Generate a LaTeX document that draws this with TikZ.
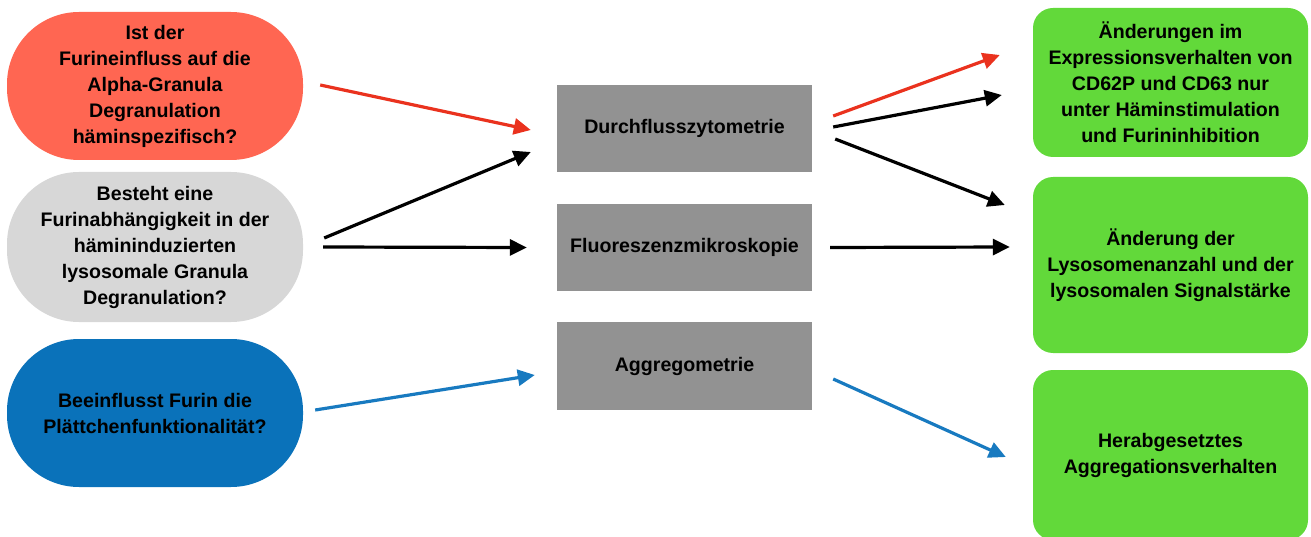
\documentclass[tikz,border=0pt]{standalone}
\usepackage{fontspec}
\setmainfont{Liberation Sans}
\usetikzlibrary{arrows.meta}
\definecolor{qred}{RGB}{255,102,82}
\definecolor{qgray}{RGB}{215,215,215}
\definecolor{qblue}{RGB}{10,114,186}
\definecolor{mgray}{RGB}{146,146,146}
\definecolor{rgreen}{RGB}{98,217,58}
\definecolor{ared}{RGB}{234,50,30}
\definecolor{ablue}{RGB}{24,122,192}
\begin{document}
\begin{tikzpicture}[x=1pt,y=-1pt,
  txt/.style={font=\fontsize{19.6}{26}\selectfont\bfseries, text=black, align=center, inner sep=0pt},
  question/.style={txt, minimum width=296pt, rounded corners=72pt},
  method/.style={txt, fill=mgray, minimum width=255pt, minimum height=87pt},
  result/.style={txt, fill=rgreen, minimum width=275pt, rounded corners=20pt},
  ar/.style={line width=3.2pt, -{Triangle[length=17pt,width=16pt]}},
]
\useasboundingbox (0,0) rectangle (1311,537);
\begin{scope}
\clip (0,0) rectangle (1311,537);
% questions
\node[question, fill=qred, minimum height=148pt] (q1) at (155,86)
  {Ist der\\Furineinfluss auf die\\Alpha-Granula\\Degranulation\\häminspezifisch?};
\node[question, fill=qgray, minimum height=150pt] (q2) at (155,247)
  {Besteht eine\\Furinabhängigkeit in der\\häminin­duzierten\\lysosomale Granula\\Degranulation?};
\node[question, fill=qblue, minimum height=148pt] (q3) at (155,413)
  {Beeinflusst Furin die\\Plättchenfunktionalität?};
% methods
\node[method] (m1) at (684.5,128.5) {Durchflusszytometrie};
\node[method] (m2) at (684.5,247.5) {Fluoreszenzmikroskopie};
\node[method, minimum height=88pt] (m3) at (684.5,366) {Aggregometrie};
% results
\node[result, minimum height=149pt] (r1) at (1170.5,82.5)
  {Änderungen im\\Expressionsverhalten von\\CD62P und CD63 nur\\unter Häminstimulation\\und Furininhibition};
\node[result, minimum height=176pt] (r2) at (1170.5,265)
  {Änderung der\\Lysosomenanzahl und der\\lysosomalen Signalstärke};
\node[result, minimum height=170pt] (r3) at (1170.5,455)
  {Herabgesetztes\\Aggregationsverhalten};
\end{scope}
% arrows left
\draw[ar, ared] ([shift={(17,-1)}]q1.east) -- ([shift={(-26,1.5)}]m1.west);
\draw[ar, black] ([shift={(21,-9)}]q2.east) -- ([shift={(-26,23.5)}]m1.west);
\draw[ar, black] ([shift={(20,0)}]q2.east) -- ([shift={(-30,0)}]m2.west);
\draw[ar, ablue] ([shift={(12,-3)}]q3.east) -- ([shift={(-22,9)}]m3.west);
% arrows right
\draw[ar, ared] ([shift={(21,-12.5)}]m1.east) -- ([shift={(-33,-27.5)}]r1.west);
\draw[ar, black] ([shift={(21,-1.5)}]m1.east) -- ([shift={(-31,12.5)}]r1.west);
\draw[ar, black] ([shift={(23,10.5)}]m1.east) -- ([shift={(-28,-60)}]r2.west);
\draw[ar, black] ([shift={(18,0)}]m2.east) -- ([shift={(-23,-18)}]r2.west);
\draw[ar, ablue] ([shift={(21,13)}]m3.east) -- ([shift={(-27,2)}]r3.west);
\end{tikzpicture}
\end{document}
